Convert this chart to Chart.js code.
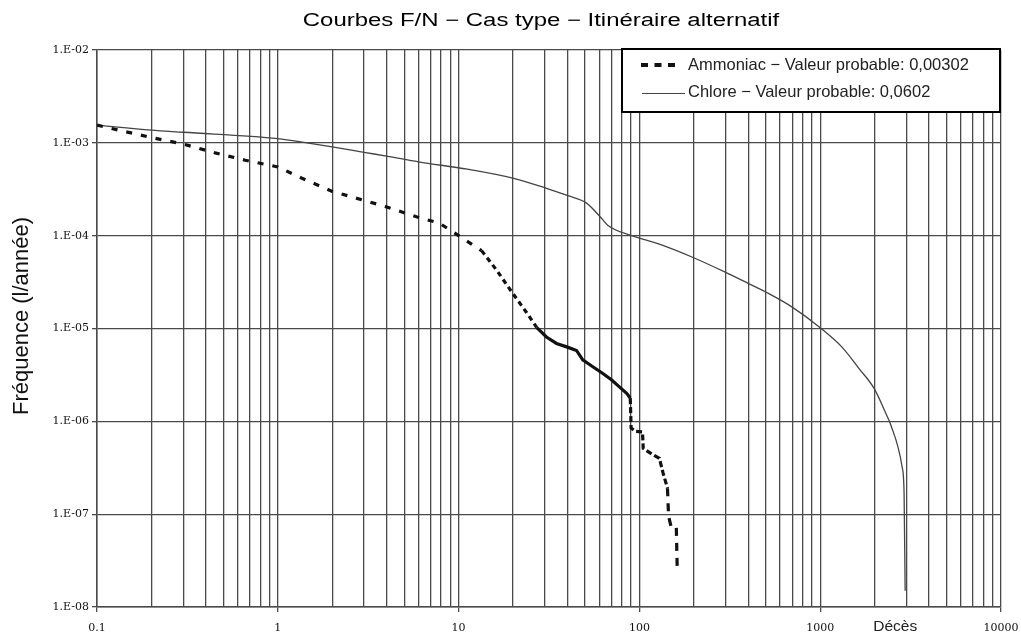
<!DOCTYPE html>
<html>
<head>
<meta charset="utf-8">
<script src="https://cdn.jsdelivr.net/npm/chart.js@4.4.0/dist/chart.umd.min.js"></script>
<style>
  html, body { margin: 0; padding: 0; background: #fff; overflow: hidden; }
  #wrap { width: 1021px; height: 635px; position: relative; }
</style>
</head>
<body>
<div id="wrap"><canvas id="fnChart" width="1021" height="635"></canvas></div>
<script>
// Données (échelles log-log)
const chartTitle = 'Courbes F/N \u2212 Cas type \u2212 Itinéraire alternatif';
const yAxisTitle = 'Fréquence (l/année)';
const xAxisTitle = 'Décès';
const ammoniacLabel = 'Ammoniac \u2212 Valeur probable: 0,00302';
const chloreLabel = 'Chlore \u2212 Valeur probable: 0,0602';

const ammoniacX = [0.1, 0.2, 0.3, 0.45, 0.66, 1, 1.36, 2, 3, 4, 5.9, 7.85, 10, 13.4, 16.3, 19.9, 23.8, 27, 30.6, 34.8, 40, 44.9, 48.6, 55, 62.5, 70, 77.5, 85, 89, 90, 95, 104, 105, 118, 129, 135, 143, 145, 150, 160, 162];
const ammoniacY = [1.55e-3, 1.14e-3, 9.7e-4, 7.8e-4, 6.5e-4, 5.5e-4, 4.16e-4, 3.0e-4, 2.4e-4, 2.04e-4, 1.59e-4, 1.36e-4, 1.0e-4, 6.9e-5, 4.2e-5, 2.4e-5, 1.48e-5, 1.03e-5, 8.1e-6, 6.9e-6, 6.3e-6, 5.8e-6, 4.6e-6, 3.9e-6, 3.3e-6, 2.8e-6, 2.35e-6, 2.0e-6, 1.78e-6, 8.5e-7, 7.8e-7, 7.7e-7, 5.1e-7, 4.4e-7, 4.0e-7, 2.8e-7, 1.9e-7, 9.5e-8, 7.2e-8, 7.2e-8, 2.4e-8];

const chloreX = [0.1, 0.2, 0.3, 1, 1.45, 2, 3, 4, 6, 11.2, 19.9, 30.6, 39.5, 51, 61.7, 67, 90.8, 129, 201, 302, 395, 502, 700, 1000, 1320, 1640, 1990, 2315, 2450, 2840, 2910, 2950];
const chloreY = [1.55e-3, 1.37e-3, 1.3e-3, 1.11e-3, 1.0e-3, 9.06e-4, 7.9e-4, 7.2e-4, 6.24e-4, 5.2e-4, 4.17e-4, 3.24e-4, 2.73e-4, 2.24e-4, 1.54e-4, 1.29e-4, 1.0e-4, 8.1e-5, 5.75e-5, 4.0e-5, 3.1e-5, 2.46e-5, 1.7e-5, 1.02e-5, 6.3e-6, 3.7e-6, 2.25e-6, 1.2e-6, 9.3e-7, 3.2e-7, 1.7e-7, 1.5e-8];

const xDecades = [0.1, 1, 10, 100, 1000, 10000];
const xTickLabels = ['0.1', '1', '10', '100', '1000', '10000'];
const yDecades = [1e-8, 1e-7, 1e-6, 1e-5, 1e-4, 1e-3, 1e-2];
const yTickLabels = ['1.E-08', '1.E-07', '1.E-06', '1.E-05', '1.E-04', '1.E-03', '1.E-02'];

// toutes les lignes verticales 1..9 par décade
const xGridValues = [];
xDecades.slice(0, -1).forEach(d => {
    for (let k = 1; k <= 9; k++) xGridValues.push(+(d * k).toPrecision(3));
});
xGridValues.push(10000);

function isDecade(v) {
    const l = Math.log10(v);
    return Math.abs(l - Math.round(l)) < 1e-6;
}

const gridColor = '#4a4a4a';

// titre, titres d'axes et légende dessinés sur le canvas
const decorPlugin = {
    id: 'decor',
    afterDraw(chart) {
        const c = chart.ctx;
        c.save();
        c.fillStyle = '#000';
        c.font = '18px Arial, "Liberation Sans", sans-serif';
        c.textAlign = 'center';
        c.textBaseline = 'middle';
        // le titre d'origine est étiré horizontalement
        c.save();
        c.scale(1.33, 1);
        c.fillText(chartTitle, 541 / 1.33, 21);
        c.restore();

        // titre de l'axe Y
        c.save();
        c.translate(22, 316);
        c.rotate(-Math.PI / 2);
        c.fillStyle = '#111';
        c.font = '22px Arial, "Liberation Sans", sans-serif';
        c.fillText(yAxisTitle, 0, 0);
        c.restore();

        // légende
        const lx = 622, ly = 49, lw = 378, lh = 63;
        c.fillStyle = '#fff';
        c.fillRect(lx, ly, lw, lh);
        c.strokeStyle = '#000';
        c.lineWidth = 2;
        c.strokeRect(lx, ly, lw, lh);

        c.fillStyle = '#111';
        for (let i = 0; i < 3; i++) c.fillRect(641 + i * 13.5, 63, 7, 4);
        c.strokeStyle = '#444';
        c.lineWidth = 1.2;
        c.beginPath();
        c.moveTo(642, 93.5);
        c.lineTo(685, 93.5);
        c.stroke();

        c.fillStyle = '#222';
        c.font = '16.5px Arial, "Liberation Sans", sans-serif';
        c.textAlign = 'left';
        c.fillText(ammoniacLabel, 688, 65);
        c.fillText(chloreLabel, 688, 92);

        // libellé de l'axe X
        const xs = chart.scales.x;
        c.font = '15.5px Arial, "Liberation Sans", sans-serif';
        c.textAlign = 'center';
        c.fillText(xAxisTitle, xs.getPixelForValue(2600), 627);
        c.restore();
    }
};

const ctx = document.getElementById('fnChart').getContext('2d');
new Chart(ctx, {
    type: 'line',
    data: {
        datasets: [{
            label: ammoniacLabel,
            data: ammoniacX.map((x, i) => ({ x: x, y: ammoniacY[i] })),
            borderColor: '#111',
            borderWidth: 3.2,
            pointRadius: 0,
            tension: 0,
            segment: {
                borderDash: s => {
                    const x = s.p0.parsed.x;
                    if (x < 12) return [6, 9];
                    if (x < 27) return [5, 4];
                    if (x < 89) return [];
                    if (x < 140) return [6, 3];
                    return [8, 7];
                }
            }
        }, {
            label: chloreLabel,
            data: chloreX.map((x, i) => ({ x: x, y: chloreY[i] })),
            borderColor: '#444',
            borderWidth: 1.3,
            pointRadius: 0,
            cubicInterpolationMode: 'monotone'
        }]
    },
    options: {
        responsive: false,
        animation: false,
        devicePixelRatio: 1,
        layout: { padding: { top: 50, right: 20, left: 0, bottom: 0 } },
        plugins: {
            legend: { display: false },
            title: { display: false },
            tooltip: { enabled: false }
        },
        scales: {
            x: {
                type: 'logarithmic',
                min: 0.1,
                max: 10000,
                afterBuildTicks: s => { s.ticks = xGridValues.map(v => ({ value: v })); },
                afterFit: s => { s.height = 28; s.paddingRight = 0; s.paddingLeft = 0; },
                border: { color: gridColor, width: 1.5 },
                grid: {
                    color: gridColor,
                    lineWidth: 1.3,
                    tickLength: 5,
                    tickColor: c => (c.tick && isDecade(c.tick.value)) ? gridColor : 'rgba(0,0,0,0)'
                },
                ticks: {
                    autoSkip: false,
                    maxRotation: 0,
                    padding: 10,
                    color: '#111',
                    font: { family: '"DejaVu Serif", serif', size: 11 },
                    callback: v => {
                        const i = xDecades.findIndex(d => Math.abs(d - v) / d < 1e-6);
                        return i >= 0 ? xTickLabels[i] : '';
                    }
                }
            },
            y: {
                type: 'logarithmic',
                min: 1e-8,
                max: 1e-2,
                afterBuildTicks: s => { s.ticks = yDecades.map(v => ({ value: v })); },
                afterFit: s => { s.width = 97; },
                border: { color: gridColor, width: 1.5 },
                grid: { color: gridColor, lineWidth: 1.3, tickLength: 5 },
                title: { display: false },
                ticks: {
                    autoSkip: false,
                    padding: 3,
                    color: '#111',
                    font: { family: '"DejaVu Serif", serif', size: 11 },
                    callback: v => {
                        const i = yDecades.findIndex(d => Math.abs(d - v) / d < 1e-6);
                        return i >= 0 ? yTickLabels[i] : '';
                    }
                }
            }
        }
    },
    plugins: [decorPlugin]
});
</script>
</body>
</html>
